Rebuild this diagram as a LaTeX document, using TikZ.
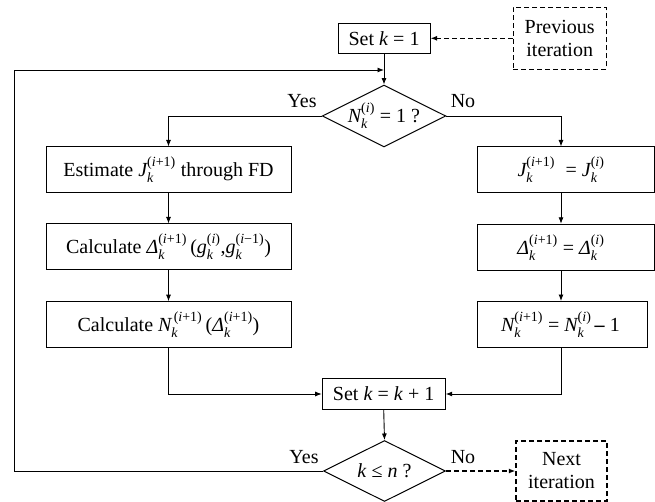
\documentclass[tikz,border=0pt]{standalone}
\usepackage{amsmath}
\usepackage{fontspec}
\setmainfont{Liberation Serif}
\usetikzlibrary{shapes.geometric,arrows.meta}
\newcommand{\vi}[1]{\text{\itshape #1}}
\newcommand{\SSx}[3]{\ensuremath{\vi{#1}_{\vi{#2}}^{\text{#3}}}}
\begin{document}
\begin{tikzpicture}[x=1pt,y=-1pt,
  font=\fontsize{20}{23}\selectfont,
  box/.style={draw, line width=1pt, inner sep=0pt, align=center},
  dbox/.style={box, dash pattern=on 5pt off 3pt, line width=1.3pt},
  dec/.style={draw, shape=diamond, aspect=2, inner sep=0pt, minimum width=122pt, minimum height=61pt, line width=1pt},
  arr/.style={-{Latex[length=6.5pt,width=5pt]}, line width=0.9pt},
  darr/.style={arr, dash pattern=on 5pt off 3pt, line width=1.3pt},
  lbl/.style={inner sep=0pt}]
\useasboundingbox (0,0) rectangle (655,502);

% nodes
\node[box, minimum width=92pt, minimum height=30pt] (set1) at (384,38.3) {Set \textit{k} = 1};
\node[dbox, minimum width=93pt, minimum height=62pt] (prev) at (559.7,38.3) {Previous\\iteration};
\node[dec] (d1) at (384,116) {\SSx{N}{k}{(\textit{i})} = 1 ?};

\node[box, minimum width=245pt, minimum height=46pt] (L1) at (168.5,170) {Estimate \SSx{J}{k}{(\textit{i}+1)} through FD};
\node[box, minimum width=245pt, minimum height=46pt] (L2) at (168.5,247) {Calculate \SSx{Δ}{k}{(\textit{i}+1)}\,(\SSx{g}{k}{(\textit{i})},\SSx{g}{k}{(\textit{i}−1)})};
\node[box, minimum width=245pt, minimum height=46pt] (L3) at (168.5,324.7) {Calculate \SSx{N}{k}{\,(\textit{i}+1)}\,(\SSx{Δ}{k}{(\textit{i}+1)})};

\node[box, minimum width=177pt, minimum height=46pt] (R1) at (565.5,170) {\SSx{J}{k}{(\textit{i}+1)}\; = \SSx{J}{k}{(\textit{i})}\kern9pt};
\node[box, minimum width=177pt, minimum height=46pt] (R2) at (565.5,247.3) {\SSx{Δ}{k}{(\textit{i}+1)} = \SSx{Δ}{k}{(\textit{i})}\kern9pt};
\node[box, minimum width=170pt, minimum height=46pt] (R3) at (562,324.5) {\SSx{N}{k}{(\textit{i}+1)} = \SSx{N}{k}{(\textit{i})}\,\textbf{–} 1\kern3pt};

\node[box, minimum width=123pt, minimum height=31pt] (set2) at (383.7,394) {Set \textit{k} = \textit{k} + 1};
\node[dec] (d2) at (384.5,471) {\textit{k} ≤ \textit{n} ?};
\node[dbox, minimum width=91pt, minimum height=60pt] (next) at (561.5,471) {Next\\iteration};

% labels
\node[lbl] (y1) at (302,101) {Yes};
\node[lbl] (n1) at (463,101) {No};
\node[lbl] (y2) at (304,457) {Yes};
\node[lbl] (n2) at (463,457) {No};

% helper coordinates
\coordinate (rx) at (561,0);
\coordinate (c1) at (14,471);
\coordinate (c2) at (14,70);
\coordinate (c3) at (384,70);
\coordinate (jl) at (168.5,394);
\coordinate (jr) at (561.7,394);

% connectors
\draw[darr] (prev.west) -- (set1.east);
\draw[arr] (set1.south) -- (d1.north);
\draw[arr] (d2.west) -- (c1) -- (c2) -- (c3);
\draw[arr] (d1.west) -| (L1.north);
\draw[arr] (d1.east) -| (R1.north -| rx);
\draw[arr] (L1.south) -- (L2.north);
\draw[arr] (L2.south) -- (L3.north);
\draw[arr] (R1.south -| rx) -- (R2.north -| rx);
\draw[arr] (R2.south -| rx) -- (R3.north -| rx);
\draw[arr] (L3.south) -- (jl) -- (set2.west);
\draw[arr] (R3.south -| jr) -- (jr) -- (set2.east);
\draw[arr] (set2.south) -- (d2.north);
\draw[darr] (d2.east) -- (next.west);
\end{tikzpicture}
\end{document}
